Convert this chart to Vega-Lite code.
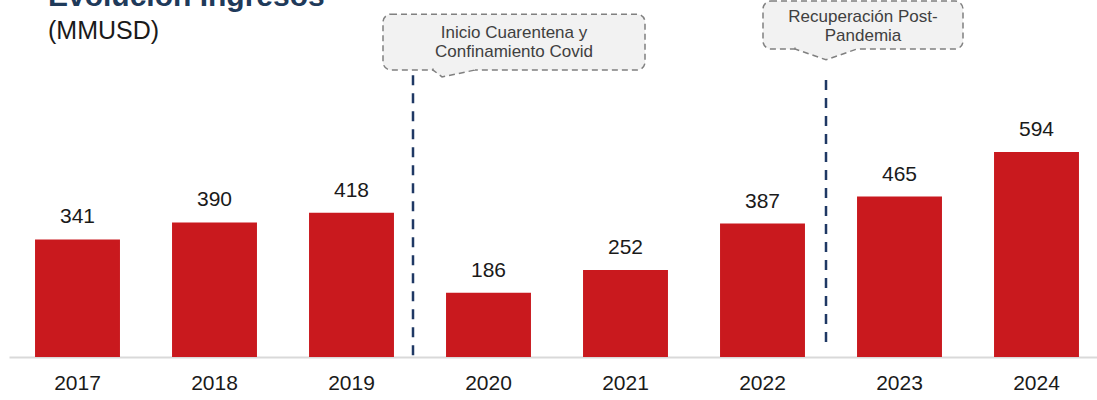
{
  "$schema": "https://vega.github.io/schema/vega-lite/v6.json",
  "width": 1096,
  "height": 357,
  "autosize": {"type": "none"},
  "padding": {"left": 9, "top": 0, "right": 0, "bottom": 43},
  "config": {"view": {"stroke": null}, "font": "Liberation Sans"},
  "title": {
    "text": "Evolución Ingresos",
    "subtitle": "(MMUSD)",
    "anchor": "start",
    "frame": "group",
    "dx": 39,
    "offset": -44,
    "font": "Liberation Sans",
    "fontSize": 30,
    "fontWeight": "bold",
    "color": "#1F3A5A",
    "subtitleFont": "Liberation Sans",
    "subtitleFontSize": 25,
    "subtitleColor": "#1a1a1a",
    "subtitlePadding": 7
  },
  "datasets": {
    "sales": [
      {"year": "2017", "value": 341},
      {"year": "2018", "value": 390},
      {"year": "2019", "value": 418},
      {"year": "2020", "value": 186},
      {"year": "2021", "value": 252},
      {"year": "2022", "value": 387},
      {"year": "2023", "value": 465},
      {"year": "2024", "value": 594}
    ],
    "note1": [{"year": "2020", "label": "Inicio Cuarentena y\nConfinamiento Covid"}],
    "note2": [{"year": "2023", "label": "Recuperación Post-\nPandemia"}]
  },
  "encoding": {
    "x": {
      "field": "year",
      "type": "nominal",
      "scale": {"domain": ["2017","2018","2019","2020","2021","2022","2023","2024"], "paddingInner": 0.38, "paddingOuter": 0.19},
      "axis": {"title": null, "labelAngle": 0, "ticks": false, "domainColor": "#d9d9d9", "domainWidth": 2, "labelFontSize": 21, "labelColor": "#1a1a1a", "labelPadding": 15, "labelFont": "Liberation Sans"}
    }
  },
  "layer": [
    {
      "data": {"name": "sales"},
      "mark": {"type": "bar", "color": "#C9191E"},
      "encoding": {"y": {"field": "value", "type": "quantitative", "scale": {"domain": [0, 1035], "nice": false, "zero": true}, "axis": null}}
    },
    {
      "data": {"name": "sales"},
      "mark": {"type": "text", "dy": -16, "baseline": "alphabetic", "fontSize": 21, "color": "#1a1a1a"},
      "encoding": {"y": {"field": "value", "type": "quantitative"}, "text": {"field": "value", "type": "quantitative"}}
    },
    {
      "data": {"name": "note1"},
      "mark": {"type": "rule", "xOffset": -75.5, "strokeDash": [10, 8], "strokeWidth": 2.5, "color": "#1F3864"},
      "encoding": {"y": {"datum": 817, "type": "quantitative"}, "y2": {"datum": 0}}
    },
    {
      "data": {"name": "note2"},
      "mark": {"type": "rule", "xOffset": -73.5, "strokeDash": [10, 8], "strokeWidth": 2.5, "color": "#1F3864"},
      "encoding": {"y": {"datum": 803, "type": "quantitative"}, "y2": {"datum": 20}}
    },
    {
      "data": {"name": "note1"},
      "mark": {"type": "bar", "width": 262, "xOffset": 25.5, "cornerRadius": 8, "fill": "#f2f2f2", "stroke": "#808080", "strokeDash": [6, 4], "strokeWidth": 1.5},
      "encoding": {"y": {"datum": 994, "type": "quantitative"}, "y2": {"datum": 832}}
    },
    {
      "data": {"name": "note1"},
      "mark": {"type": "point", "shape": "M-1,-0.07L-1,0L-0.57,0.33L1,0L1,-0.07", "size": 1764, "xOffset": -34.5, "filled": true, "fill": "#f2f2f2", "fillOpacity": 1, "stroke": "#808080", "strokeOpacity": 1, "strokeDash": [6, 4], "strokeWidth": 1.5},
      "encoding": {"y": {"datum": 832, "type": "quantitative"}}
    },
    {
      "data": {"name": "note1"},
      "mark": {"type": "text", "lineBreak": "\n", "xOffset": 25.5, "baseline": "middle", "fontSize": 17, "lineHeight": 19, "color": "#404040"},
      "encoding": {"y": {"datum": 939, "type": "quantitative"}, "text": {"field": "label"}}
    },
    {
      "data": {"name": "note2"},
      "mark": {"type": "bar", "width": 200, "xOffset": -36.5, "cornerRadius": 8, "fill": "#f2f2f2", "stroke": "#808080", "strokeDash": [6, 4], "strokeWidth": 1.5},
      "encoding": {"y": {"datum": 1032, "type": "quantitative"}, "y2": {"datum": 893}}
    },
    {
      "data": {"name": "note2"},
      "mark": {"type": "point", "shape": "M-1,-0.05L-1,0L0,0.35L1,0L1,-0.05", "size": 3844, "xOffset": -73.5, "filled": true, "fill": "#f2f2f2", "fillOpacity": 1, "stroke": "#808080", "strokeOpacity": 1, "strokeDash": [6, 4], "strokeWidth": 1.5},
      "encoding": {"y": {"datum": 893, "type": "quantitative"}}
    },
    {
      "data": {"name": "note2"},
      "mark": {"type": "text", "lineBreak": "\n", "xOffset": -36.5, "baseline": "middle", "fontSize": 17, "lineHeight": 19, "color": "#404040"},
      "encoding": {"y": {"datum": 986, "type": "quantitative"}, "text": {"field": "label"}}
    }
  ]
}
